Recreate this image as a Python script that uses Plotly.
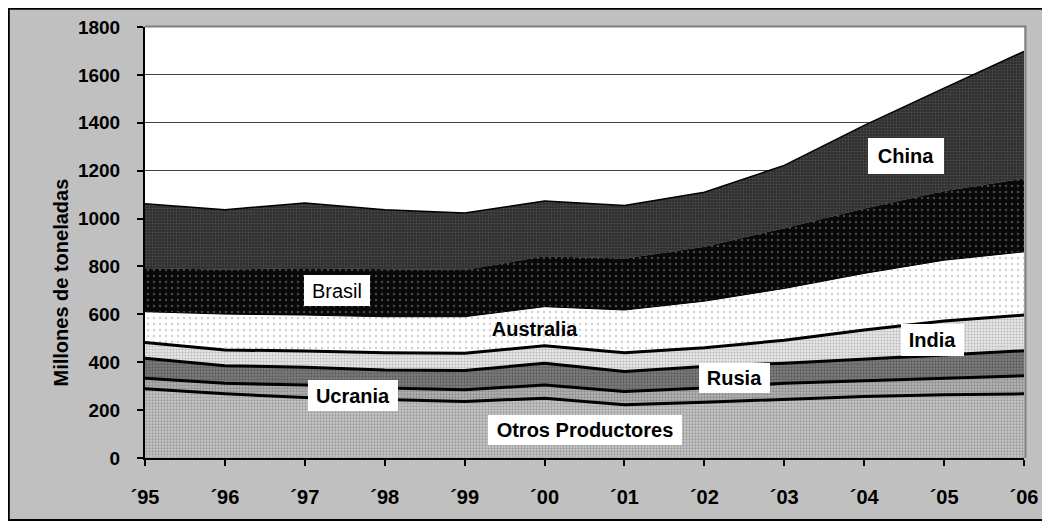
import plotly.graph_objects as go

# ---------------- data ----------------
years = ["´95", "´96", "´97", "´98", "´99", "´00", "´01", "´02", "´03", "´04", "´05", "´06"]
otros = [289, 268, 253, 246, 236, 250, 222, 233, 244, 257, 264, 268]
ucrania = [44, 44, 52, 46, 49, 55, 56, 59, 68, 66, 71, 75]
rusia = [84, 73, 74, 76, 80, 91, 83, 90, 84, 89, 95, 105]
india = [65, 66, 68, 72, 72, 73, 79, 78, 96, 123, 142, 149]
australia = [129, 150, 150, 150, 153, 163, 178, 195, 216, 236, 254, 264]
brasil = [181, 186, 195, 197, 195, 211, 215, 227, 252, 271, 289, 306]
china = [270, 250, 273, 250, 238, 230, 222, 228, 262, 347, 430, 531]
y_ticks = [0, 200, 400, 600, 800, 1000, 1200, 1400, 1600, 1800]

# ---------------- layout geometry (page pixels) ----------------
OFF = 8                           # default body margin of the html page
W, H = 1050 - OFF, 529 - 2 * OFF  # figure size (no vertical page overflow)
L, R, T, B = 145, 1024, 27, 458   # plot area in page pixels
PW, PH = R - L, B - T

def px(x):
    return (x - L) / PW

def py(y):
    return (B - y) / PH

FONT = "Liberation Sans, Arial, sans-serif"

series = [
    ("Otros Productores", otros, dict(shape=".", bgcolor="#c8c8c8", fgcolor="#707070", size=3, solidity=0.45), 3, "black"),
    ("Ucrania", ucrania, dict(shape=".", bgcolor="#b6b6b6", fgcolor="#606060", size=3, solidity=0.45), 3, "black"),
    ("Rusia", rusia, dict(shape=".", bgcolor="#808080", fgcolor="#353535", size=3, solidity=0.45), 3, "black"),
    ("India", india, dict(shape=".", bgcolor="#e6e6e6", fgcolor="#8c8c8c", size=3, solidity=0.35), 3, "black"),
    ("Australia", australia, dict(shape=".", bgcolor="#ffffff", fgcolor="#a0a0a0", size=6, solidity=0.12), 1, "black"),
    ("Brasil", brasil, dict(shape=".", bgcolor="#080808", fgcolor="#8a8a8a", size=6, solidity=0.12), 0.5, "#202020"),
    ("China", china, dict(shape=".", bgcolor="#2e2e2e", fgcolor="#686868", size=3, solidity=0.35), 1.5, "black"),
]

fig = go.Figure()
for name, vals, pat, lw, lc in series:
    fig.add_trace(go.Scatter(
        x=years, y=vals, name=name, mode="lines",
        stackgroup="one",
        line=dict(width=lw, color=lc),
        fillpattern=pat,
        hoverinfo="x+y+name",
    ))

shapes = [
    # chart frame (left, top, bottom visible)
    dict(type="rect", xref="paper", yref="paper", x0=px(8.8), x1=px(1070), y0=py(520), y1=py(8.8),
         fillcolor="rgba(0,0,0,0)", line=dict(width=2, color="black"), layer="above"),
    # plot area top and right borders (gray)
    dict(type="line", xref="paper", yref="paper", x0=0, x1=px(R + 1.5), y0=py(T - 0.5), y1=py(T - 0.5),
         line=dict(width=2, color="#808080"), layer="above"),
    dict(type="line", xref="paper", yref="paper", x0=px(R + 1.5), x1=px(R + 1.5), y0=0, y1=py(T - 1.5),
         line=dict(width=2, color="#808080"), layer="above"),
]

labels = [
    ("China", 906, 156, 76, 36, True, True),
    ("Brasil", 337, 290.5, 66, 31, False, True),
    ("Australia", 534.5, 329, 90, 28, True, False),
    ("India", 932.5, 340, 63, 32, True, True),
    ("Rusia", 734.5, 378, 71, 30, True, True),
    ("Ucrania", 353, 395.5, 90, 31, True, True),
    ("Otros Productores", 585, 430, 194, 30, True, True),
]

annotations = []
for text, cx, cy, bw, bh, bold, box in labels:
    annotations.append(dict(
        text=text, xref="paper", yref="paper", x=px(cx), y=py(cy),
        xanchor="center", yanchor="middle", showarrow=False,
        font=dict(family=FONT, size=20, color="black", weight="bold" if bold else "normal"),
        bgcolor="white" if box else "rgba(0,0,0,0)",
        width=bw, height=bh, borderpad=0, borderwidth=0,
    ))

annotations.append(dict(
    text="Millones de toneladas", xref="paper", yref="paper",
    x=px(60), y=py(282.5), xanchor="center", yanchor="middle",
    textangle=-90, showarrow=False,
    font=dict(family=FONT, size=20, color="black", weight="bold"),
))

fig.update_layout(
    width=W, height=H,
    margin=dict(l=L - OFF, r=W - (R - OFF), t=T - OFF, b=H - (B - OFF), pad=0),
    paper_bgcolor="#c0c0c0",
    plot_bgcolor="white",
    showlegend=False,
    shapes=shapes,
    annotations=annotations,
    font=dict(family=FONT, color="black"),
)

fig.update_xaxes(
    type="category", range=[0, len(years) - 1],
    showgrid=False, zeroline=False,
    showline=True, linecolor="black", linewidth=2,
    ticks="outside", ticklen=6, tickwidth=1.5, tickcolor="black",
    tickfont=dict(family=FONT, size=20, weight="bold", color="black"),
    ticklabelstandoff=14,
    automargin=False,
)

fig.update_yaxes(
    range=[0, 1800], tickvals=y_ticks,
    showgrid=True, gridcolor="#404040", gridwidth=1,
    zeroline=False,
    showline=True, linecolor="black", linewidth=2,
    ticks="outside", ticklen=6, tickwidth=1.5, tickcolor="black",
    tickfont=dict(family=FONT, size=19, weight="bold", color="black"),
    ticklabelstandoff=13,
    automargin=False,
)

fig.write_html("out.html")
